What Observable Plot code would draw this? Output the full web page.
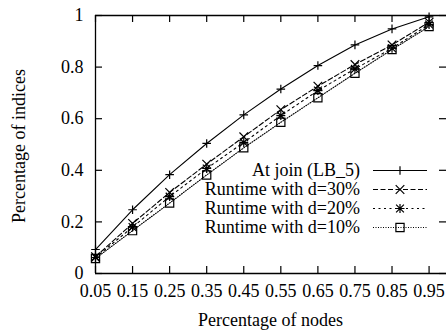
<!DOCTYPE html>
<html><head><meta charset="utf-8">
<script src="https://cdn.jsdelivr.net/npm/d3@7"></script>
<script src="https://cdn.jsdelivr.net/npm/@observablehq/plot@0.6"></script>
<style>html,body{margin:0;padding:0;background:#fff}</style>
</head><body><div id="chart"></div>
<script>
// ---- data ----
const nodes = [0.05, 0.15, 0.25, 0.35, 0.45, 0.55, 0.65, 0.75, 0.85, 0.95];
const atJoin = [0.093, 0.247, 0.383, 0.504, 0.615, 0.715, 0.806, 0.886, 0.948, 0.995];
const d30 = [0.065, 0.194, 0.314, 0.424, 0.530, 0.635, 0.726, 0.810, 0.886, 0.974];
const d20 = [0.062, 0.180, 0.298, 0.407, 0.508, 0.612, 0.709, 0.793, 0.873, 0.965];
const d10 = [0.058, 0.166, 0.273, 0.382, 0.487, 0.586, 0.681, 0.776, 0.868, 0.957];
const seriesNames = ["At join (LB_5)", "Runtime with d=30%", "Runtime with d=20%", "Runtime with d=10%"];
const xTicks = [0.05, 0.15, 0.25, 0.35, 0.45, 0.55, 0.65, 0.75, 0.85, 0.95];
const yTicks = [0, 0.2, 0.4, 0.6, 0.8, 1];
const xLabel = "Percentage of nodes";
const yLabel = "Percentage of indices";

// ---- styles ----
const mkSym = (f) => ({draw(ctx, size) { const h = Math.sqrt(size / Math.PI); f(ctx, h); }});
const plus = mkSym((c, h) => { c.moveTo(-h, 0); c.lineTo(h, 0); c.moveTo(0, -h); c.lineTo(0, h); });
const times = mkSym((c, h) => { c.moveTo(-h, -h); c.lineTo(h, h); c.moveTo(-h, h); c.lineTo(h, -h); });
const star = mkSym((c, h) => { const k = h * 1.15; c.moveTo(-k, 0); c.lineTo(k, 0); c.moveTo(0, -k); c.lineTo(0, k); c.moveTo(-h, -h); c.lineTo(h, h); c.moveTo(-h, h); c.lineTo(h, -h); });
const square = mkSym((c, h) => { c.moveTo(-h, -h); c.lineTo(h, -h); c.lineTo(h, h); c.lineTo(-h, h); c.closePath(); });
const styles = [
  {dash: undefined, sym: plus, r: 4.3},
  {dash: "5,2.5", sym: times, r: 4.3},
  {dash: "2,3.5", sym: star, r: 3.9},
  {dash: "1,1.5", sym: square, r: 4.1}
];
const series = [atJoin, d30, d20, d10];

const W = 446, H = 332, mL = 95, mR = 0, mT = 15, mB = 59;
const plotW = W - mL - mR, plotH = H - mT - mB;
const FONT = "'Liberation Serif', 'Times New Roman', serif";

const marks = [];
series.forEach((vals, i) => {
  const data = nodes.map((x, j) => ({x, y: vals[j]}));
  marks.push(Plot.line(data, {x: "x", y: "y", stroke: "black", strokeWidth: 1.1, strokeDasharray: styles[i].dash}));
  marks.push(Plot.dot(data, {x: "x", y: "y", r: styles[i].r, symbol: styles[i].sym, stroke: "black", fill: "none", strokeWidth: 1.2}));
});

const chart = Plot.plot({
  width: W, height: H,
  marginLeft: mL, marginRight: mR, marginTop: mT, marginBottom: mB,
  style: {fontSize: "18px", fontFamily: FONT, background: "white", color: "black"},
  x: {domain: [0.05, 0.997], ticks: xTicks, tickFormat: d3.format(".2f"), tickSize: 0, tickPadding: 11, label: null},
  y: {domain: [0, 1], ticks: yTicks, tickFormat: d => String(d), tickSize: 0, tickPadding: 12, label: null},
  marks: [
    ...marks,
    // frame
    Plot.ruleX([0.05], {stroke: "black", strokeWidth: 1.3}),
    Plot.ruleY([0], {stroke: "black", strokeWidth: 1.3}),
    Plot.ruleY([1], {stroke: "black", strokeWidth: 1.3}),
    // inward ticks
    Plot.ruleX(xTicks, {stroke: "black", strokeWidth: 1.2, insetTop: plotH - 7}),
    Plot.ruleX(xTicks, {stroke: "black", strokeWidth: 1.2, insetBottom: plotH - 7}),
    Plot.ruleY(yTicks, {stroke: "black", strokeWidth: 1.2, insetRight: plotW - 7}),
    Plot.ruleY(yTicks, {stroke: "black", strokeWidth: 1.2, insetLeft: plotW - 7})
  ]
});
document.getElementById("chart").appendChild(chart);

// ---- axis titles and legend ----
const svg = d3.select(chart);
const g = svg.append("g").attr("font-size", 18).attr("font-family", FONT).attr("fill", "black");
g.append("text").attr("x", mL + plotW / 2).attr("y", 320).attr("dy", "0.32em")
  .attr("text-anchor", "middle").text(xLabel);
g.append("text").attr("transform", `translate(19,146) rotate(-90)`).attr("dy", "0.32em")
  .attr("text-anchor", "middle").text(yLabel);
seriesNames.forEach((name, i) => {
  const y = 170.5 + i * 19;
  g.append("text").attr("x", 360).attr("y", y).attr("dy", "0.32em").attr("text-anchor", "end").text(name);
  const ln = g.append("line").attr("x1", 373).attr("x2", 427).attr("y1", y).attr("y2", y)
    .attr("stroke", "black").attr("stroke-width", 1.1);
  if (styles[i].dash) ln.attr("stroke-dasharray", styles[i].dash);
  g.append("path").attr("transform", `translate(400,${y})`)
    .attr("d", d3.symbol(styles[i].sym, Math.PI * styles[i].r * styles[i].r)())
    .attr("fill", "none").attr("stroke", "black").attr("stroke-width", 1.2);
});
</script>
</body></html>
